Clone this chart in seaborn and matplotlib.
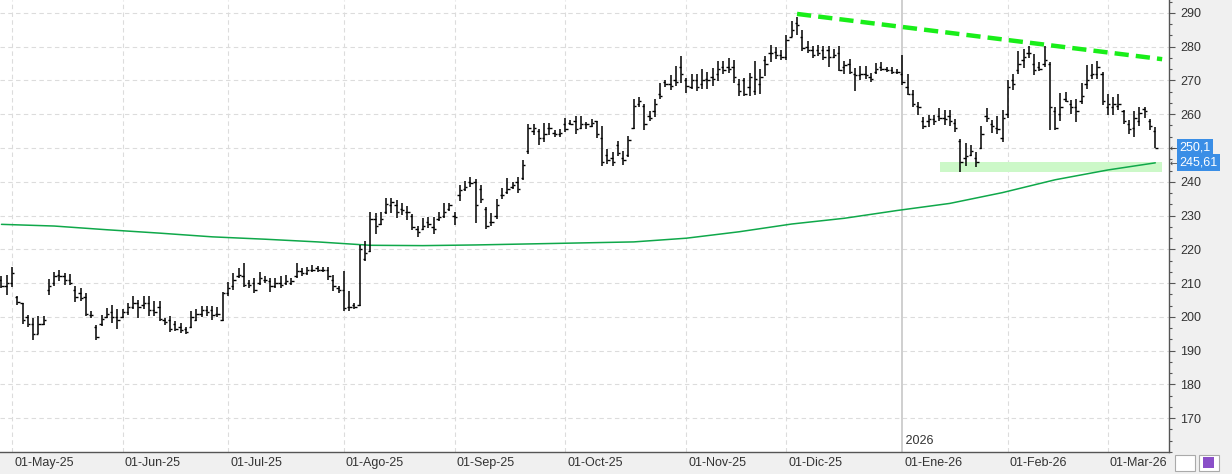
import numpy as np
import pandas as pd
import matplotlib
matplotlib.use("Agg")
import matplotlib.pyplot as plt
import matplotlib.transforms as mtransforms
from matplotlib.patches import Rectangle
import seaborn as sns

# ======= DATA =======
# NYSE closed days inside the window
holidays = ["2025-05-26", "2025-06-19", "2025-07-04", "2025-09-01", "2025-11-27",
            "2025-12-25", "2026-01-01", "2026-01-19", "2026-02-16"]

highs = [212, 212.5, 214.7, 206.3, 204.1, 200.7, 199.7, 200.2, 200.2, 211.2,
         213.4, 213.9, 212.9, 212.7, 209.2, 208.5, 207, 201.7, 197.7, 200.7,
         202.6, 203.6, 202.2, 202.2, 204.1, 206.1, 205.1, 206.1, 206.1, 204.6,
         204.6, 199.7, 200.4, 198.7, 198.2, 197.1, 201.7, 202.2, 203.3, 203.3,
         203.1, 202.9, 207.5, 210.2, 212.9, 214.4, 216.1, 211, 211.5, 213.4,
         212, 211.5, 211.5, 212, 212.5, 211.5, 215.9, 214.4, 214.9, 215.4,
         215.1, 214.9, 214.7, 212.5, 209.1, 213.5, 207.8, 204.2, 221.4, 222.4,
         231.2, 230.7, 231, 235.1, 235.3, 234.6, 233.6, 232.9, 230.4, 226.8,
         229.2, 229.7, 229.7, 231, 233.6, 233.6, 231.2, 239, 240.2, 241.5,
         240.7, 239, 232.6, 230.7, 234.9, 238.2, 241.2, 239.8, 241.5, 246.4,
         257.2, 257.2, 255.5, 257.5, 257.5, 255.2, 255.7, 258.8, 258.4, 259.4,
         259.4, 257.8, 258.5, 258, 256.6, 249.7, 248.7, 252.2, 249.2, 253.6,
         264.4, 265.2, 263, 261, 264.4, 269.1, 270.1, 271.5, 274.4, 277.2,
         270.8, 271.8, 271.8, 273.4, 272.5, 273.7, 275.7, 275.7, 276.7, 276.2,
         270.5, 270.8, 272.3, 275.7, 273.4, 277.2, 280.6, 279.9, 279.1, 283.5,
         287.7, 288.9, 285, 281.6, 280.1, 280.6, 280.3, 280.1, 279.3, 280.3,
         275.7, 276.4, 273.7, 274.4, 274.2, 272.2, 275.2, 275.4, 274.1, 273.9,
         273.4, 277.6, 271.8, 267.3, 263.6, 259.2, 259.7, 259.7, 261.7, 261.4,
         261.2, 258.7, 252.8, 251.4, 250.9, 248.9, 256.5, 261.7, 258.4, 259.4,
         261.4, 270.2, 272, 278.8, 279.3, 280.3, 277.8, 275.4, 280.3, 275.4,
         262, 266.3, 266.6, 264.3, 264.6, 269.2, 274.7, 274.9, 275.7, 272.5,
         266.1, 265.1, 265.9, 261.4, 258.4, 261, 262.2, 262, 258.7, 256.1]

lows = [208.5, 206.6, 208.8, 203.6, 198, 197, 193.1, 194.8, 197.7, 206.6,
        209, 210.5, 209.5, 209.5, 204.3, 204.6, 200.4, 199.7, 193.3, 197.3,
        199.7, 198.2, 196.5, 199.7, 200.7, 202.2, 199.7, 202.2, 200.2, 200.2,
        198.7, 197.7, 195.5, 195.8, 195.3, 194.8, 196.8, 198.7, 200, 200.4,
        199.2, 200, 198.7, 206.1, 208, 211.5, 208.8, 208.5, 207.1, 209.5,
        210, 207.5, 208.5, 208.5, 209.5, 209.5, 211.5, 212, 212.5, 213.4,
        213.4, 213.4, 211, 207.6, 207.2, 201.6, 201.8, 202.3, 203.2, 216.5,
        219.2, 224.5, 227.1, 230.4, 230.7, 229.2, 230.2, 228.7, 225.8, 223.8,
        225.8, 226.3, 224.5, 228.4, 229.2, 231.4, 227.1, 234.3, 237.3, 238.5,
        227.7, 233.6, 226.1, 226.8, 229, 234.9, 236.3, 237.8, 236.6, 240.5,
        248.3, 253.9, 251, 251.8, 253.9, 253.2, 253.2, 254.7, 256.7, 254.2,
        255.5, 255.7, 256.1, 253.1, 244.8, 245.3, 244.6, 247.7, 245, 247.2,
        255.6, 262, 255.4, 258, 259.3, 264.4, 268.1, 267.2, 268.3, 269.1,
        266.4, 267.4, 266.9, 267.4, 267.4, 268.3, 269.8, 271.8, 272.1, 269.3,
        265.4, 265.4, 265.4, 265.6, 265.9, 271.3, 275.4, 276.4, 276.2, 276,
        282.8, 283.5, 278.6, 278.1, 276.7, 277.2, 276.2, 274, 276.7, 272.7,
        271.8, 271.8, 266.9, 270.1, 270.3, 269.5, 272, 272.7, 272.5, 272,
        271.8, 268.8, 265.6, 262, 259.7, 255.5, 256.1, 256.8, 258, 256.8,
        256.5, 254.8, 243, 244.7, 247.6, 244.3, 249.6, 257.7, 254.3, 254.1,
        251.9, 259, 267.3, 272, 273.7, 276.7, 271.5, 272.7, 274.1, 255.3,
        255.3, 258, 263.6, 260, 257.7, 263.1, 267.5, 270.5, 270.5, 262.6,
        259.7, 259.7, 261.2, 257.1, 254.1, 253.3, 256.5, 259, 255.3, 249.9]

opens = [211, 209, 210, 206, 204, 200, 198, 195, 198, 208,
         210, 212.5, 212, 211, 208, 207, 206, 200.5, 197, 198,
         200, 201.5, 200, 200, 201.5, 203, 204, 203.5, 204, 202,
         203, 199, 199, 198, 197, 196.5, 197, 199, 201, 202,
         202, 201, 199, 207, 209, 212, 212, 210, 210, 210,
         211, 210.5, 209, 210, 210, 210, 212, 213.5, 213, 214,
         214.5, 214, 214, 211, 208.5, 208, 203, 203.5, 203.5, 217,
         219.5, 229, 227.5, 231, 233, 233, 232, 231, 230, 226,
         226, 228, 226.5, 229, 230, 232, 230, 236, 238, 240,
         240, 238, 232, 228, 230, 236, 237, 238.5, 240, 241,
         249, 255, 255, 253, 256, 254.5, 254, 257, 257.5, 258,
         256, 257, 256.5, 258, 253, 248, 247, 251, 247, 248,
         256, 263, 262.5, 259.5, 261, 266, 269.5, 269, 270, 274,
         270, 268, 270, 269, 270.5, 271, 272, 274, 274, 274,
         269, 270, 268, 267, 269, 276, 278, 278.5, 277.5, 277,
         283, 287, 283, 280, 279, 279, 279, 279, 277, 278,
         274, 275, 272, 271.5, 272, 271, 272.5, 274, 273.5, 273,
         272.5, 272, 268, 266, 262.5, 258, 258, 258.5, 259.5, 259,
         259.5, 257.5, 252, 247, 248, 247, 250, 259.5, 257, 256,
         253, 260, 270, 273, 276, 278, 275, 274, 275, 275,
         261, 260, 264.5, 263, 262, 264, 269, 271.5, 272, 272,
         262, 262, 262.5, 261, 257, 256, 258, 261.5, 258, 255]

closes = [209, 210, 213, 204.5, 199, 198, 195, 198, 199, 209,
          212, 212, 211, 210, 206, 205.5, 201, 200.5, 194, 199.5,
          201, 200, 199, 201.5, 203, 204, 203, 204, 202, 201.5,
          199.5, 198.5, 196.5, 196.5, 196, 195.5, 200, 201, 202, 201.5,
          200.5, 201, 207, 208.5, 211, 212.5, 209.5, 209.5, 208, 211.5,
          211, 209, 210, 209.5, 210.5, 210.5, 213.5, 213, 214, 214,
          214, 213.8, 212, 209, 208, 202.5, 203, 203, 220, 219,
          229, 227, 229, 233.5, 234, 231, 231.5, 231, 226.5, 225,
          227, 227.5, 226, 229.5, 231, 233, 229.5, 237.5, 238.5, 239.5,
          233, 235, 227, 228, 233, 236, 238, 239, 238, 245,
          256, 256, 253, 254, 256, 254, 254.5, 255.5, 257, 255.5,
          257, 257, 257.5, 254, 246, 246.5, 246, 248.5, 246.5, 252.5,
          262.5, 264, 257, 259, 263, 265.5, 269, 268.5, 269.5, 272,
          268.5, 270, 268, 270, 270, 270.5, 273.5, 273, 273.5, 271,
          267, 266, 271, 270.5, 271, 275, 278, 277.5, 277, 282,
          285, 286.5, 279.5, 279, 277.5, 278, 277, 277, 277.5, 273,
          274.5, 272.5, 271.5, 272, 271.5, 270.5, 273.5, 273.5, 273, 272.5,
          272.5, 269.5, 266, 263, 262, 256.5, 258.5, 258, 259, 258.5,
          258, 256, 246, 247.5, 249, 246, 254, 259, 256.5, 255.5,
          259, 268, 269, 275, 277, 278, 273, 273.5, 276, 262,
          256, 262, 264, 262, 261, 265.5, 270, 272, 274, 264,
          263, 263, 263, 258, 255.5, 259, 260.5, 261, 256.5, 250.1]

# 200-session moving average, read every 10 bars
ma_idx = [0, 10, 20, 30, 40, 50, 60, 70, 80, 90, 100, 110, 120,
          130, 140, 150, 160, 170, 180, 190, 200, 210, 219]
ma_val = [227.4, 226.9, 225.8, 224.8, 223.7, 223.0, 222.2, 221.2, 221.1, 221.3, 221.6, 221.9, 222.2,
          223.3, 225.2, 227.5, 229.2, 231.5, 233.6, 236.8, 240.6, 243.5, 245.61]

# resistance trendline and support zone
trend_x = [151, 220.3]
trend_y = [289.7, 276.3]
zone_x = [178.1, 220.3]
zone_y = [243.0, 245.9]

month_abbr = ["Ene", "Feb", "Mar", "Abr", "May", "Jun", "Jul", "Ago", "Sep", "Oct", "Nov", "Dic"]
y_ticks = list(range(170, 300, 10))
last_price = "250,1"
ma_label = "245,61"
# ====================

sns.set_style("white")
plt.rcParams["font.family"] = ["Liberation Sans", "DejaVu Sans"]

dates = pd.bdate_range("2025-04-29", "2026-03-13", freq="C", holidays=holidays)
df = pd.DataFrame({"date": dates, "open": opens, "high": highs, "low": lows, "close": closes})
df["idx"] = np.arange(len(df))

W, H = 1232, 474
fig = plt.figure(figsize=(W / 100, H / 100), dpi=100, facecolor="#f0f0f0")
ax = fig.add_axes([0, 22 / H, 1169 / W, 452 / H])
ax.set_facecolor("white")

ax.set_xlim(-0.28, 221.6)
ax.set_ylim(160.88, 293.82)

# horizontal grid
for v in y_ticks:
    ax.axhline(v, color="#dcdcdc", lw=0.8, ls=(0, (4, 3)), zorder=0)

# month grid / ticks
month_start = df.groupby(df["date"].dt.to_period("M"))["idx"].min()
month_start = month_start[month_start > 0]
tick_pos, tick_lab = [], []
for per, i in month_start.items():
    if per.month == 1:
        ax.axvline(i, color="#cccccc", lw=1.3, zorder=0)
        ax.text(i, 161.6, " " + str(per.year), fontsize=9, color="#333333",
                ha="left", va="bottom")
    else:
        ax.axvline(i, color="#dcdcdc", lw=0.8, ls=(0, (4, 3)), zorder=0)
    tick_pos.append(i)
    tick_lab.append(f"01-{month_abbr[per.month - 1]}-{per.year % 100:02d}")

# support zone
ax.add_patch(Rectangle((zone_x[0], zone_y[0]), zone_x[1] - zone_x[0], zone_y[1] - zone_y[0],
                       facecolor="#ccf8c8", edgecolor="none", zorder=1))

# moving average
sns.lineplot(x=ma_idx, y=ma_val, ax=ax, color="#0fa84a", linewidth=1.1, zorder=2)

# OHLC bars
ax.vlines(df["idx"], df["low"], df["high"], color="black", lw=1.1, zorder=3)
ax.hlines(df["open"], df["idx"] - 0.45, df["idx"], color="black", lw=1.0, zorder=3)
ax.hlines(df["close"], df["idx"], df["idx"] + 0.45, color="black", lw=1.0, zorder=3)

# trendline
sns.lineplot(x=trend_x, y=trend_y, ax=ax, color="#19ee19", linewidth=3.2,
             linestyle=(0, (3.2, 1.6)), zorder=4)

# axes styling
for s in ["top", "left"]:
    ax.spines[s].set_visible(False)
for s in ["right", "bottom"]:
    ax.spines[s].set_color("#555555")
    ax.spines[s].set_linewidth(1.0)

ax.yaxis.tick_right()
ax.set_yticks(y_ticks)
# the 250 label sits under the last-price tag
ax.set_yticklabels(["" if v == 250 else str(v) for v in y_ticks])
ax.set_yticks(np.arange(160, 294, 10 / 3), minor=True)
ax.tick_params(axis="y", which="major", length=4.3, width=0.8, color="#555555",
               labelsize=9, labelcolor="#333333", pad=3.6)
ax.tick_params(axis="y", which="minor", length=2.4, width=0.8, color="#555555")

ax.set_xticks(tick_pos)
ax.set_xticklabels(tick_lab, ha="left")
ax.tick_params(axis="x", length=5.8, width=0.8, color="#555555", labelsize=9,
               labelcolor="#333333", pad=-2, direction="out")
offset = mtransforms.ScaledTranslation(0.02, 0, fig.dpi_scale_trans)
for lbl in ax.get_xticklabels():
    lbl.set_transform(lbl.get_transform() + offset)

ax.set_xlabel("")
ax.set_ylabel("")

# price tags
ytrans = ax.get_yaxis_transform()
for val, txt in [(250.1, last_price), (245.61, ma_label)]:
    ax.text(1.0088, val, txt, transform=ytrans, fontsize=9, color="white",
            ha="left", va="center", clip_on=False, zorder=10,
            bbox=dict(boxstyle="square,pad=0.2", facecolor="#3a8ee6", edgecolor="none"))
    ax.text(1.0006, val, "\u2190", transform=ytrans, fontsize=6.5, color="#444444",
            ha="left", va="center", clip_on=False, zorder=10, family="DejaVu Sans")

# toolbar buttons at bottom right
fig.patches.append(Rectangle((1175 / W, 3 / H), 20 / W, 16 / H, transform=fig.transFigure,
                             facecolor="white", edgecolor="#aaaaaa", lw=0.8))
fig.patches.append(Rectangle((1199 / W, 3 / H), 20 / W, 16 / H, transform=fig.transFigure,
                             facecolor="white", edgecolor="#aaaaaa", lw=0.8))
fig.patches.append(Rectangle((1203 / W, 6 / H), 11 / W, 11 / H, transform=fig.transFigure,
                             facecolor="#8a4fc8", edgecolor="none"))

fig.savefig("out.png", dpi=100, facecolor=fig.get_facecolor())
